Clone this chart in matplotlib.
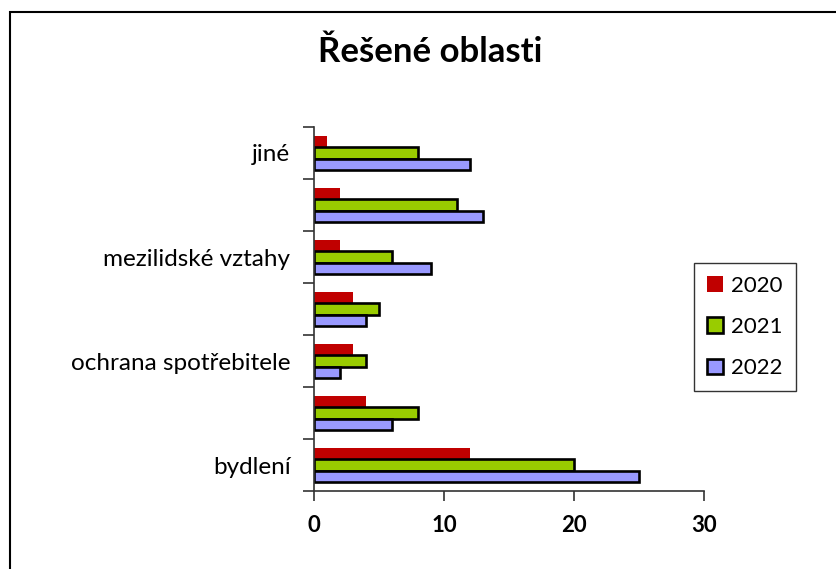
import matplotlib.pyplot as plt
import numpy as np
from matplotlib.patches import Rectangle

plt.rcParams['font.family'] = ['Lato', 'DejaVu Sans']

categories = ['bydlení', '', 'ochrana spotřebitele', '', 'mezilidské vztahy', '', 'jiné']
years = ['2020', '2021', '2022']
v2020 = [12, 4, 3, 3, 2, 2, 1]
v2021 = [20, 8, 4, 5, 6, 11, 8]
v2022 = [25, 6, 2, 4, 9, 13, 12]
colors = ['#C00000', '#99CC00', '#9999FF']

fig = plt.figure(figsize=(8.36, 5.69), dpi=100)
# outer chart border (only left/top visible in the reference)
fig.patches.append(Rectangle((10 / 836, -0.1), 1.2, 1 - 12 / 569 + 0.1,
                             transform=fig.transFigure, fill=False,
                             edgecolor='black', linewidth=1.5))

ax = fig.add_axes([314 / 836, 1 - 491 / 569, 390 / 836, 364 / 569])
y = np.arange(len(categories))
h = 0.22
ax.barh(y + h, v2020, height=h, color=colors[0], label=years[0], linewidth=0)
ax.barh(y, v2021, height=h, color=colors[1], label=years[1],
        edgecolor='black', linewidth=1.9)
ax.barh(y - h, v2022, height=h, color=colors[2], label=years[2],
        edgecolor='black', linewidth=1.9)

ax.set_xlim(0, 30)
ax.set_ylim(-0.5, len(categories) - 0.5)
ax.set_xticks([0, 10, 20, 30])
ax.set_xticklabels(['0', '10', '20', '30'], fontsize=16, fontweight='bold')
ax.set_yticks(np.arange(-0.5, len(categories), 1))
ax.set_yticklabels([])
ax.set_yticks(y, minor=True)
ax.set_yticklabels(categories, minor=True, fontsize=17.5)
ax.tick_params(axis='y', which='minor', length=0, pad=17)
ax.tick_params(axis='y', which='major', length=8, width=1.2, color='#333333')
ax.tick_params(axis='x', length=7, width=1.2, color='#333333', pad=10)

for s in ['top', 'right']:
    ax.spines[s].set_visible(False)
for s in ['left', 'bottom']:
    ax.spines[s].set_color('#333333')
    ax.spines[s].set_linewidth(1.2)

fig.text(430 / 836, 1 - 52 / 569, 'Řešené oblasti', fontsize=25,
         fontweight='bold', ha='center', va='center')

leg = fig.legend(loc='center', bbox_to_anchor=(745 / 836, 1 - 327 / 569),
                 fontsize=16, frameon=True, fancybox=False, edgecolor='black',
                 handlelength=0.7, handleheight=0.7, handletextpad=0.4,
                 labelspacing=0.95, borderpad=0.6)
leg.get_frame().set_linewidth(1.0)

fig.savefig('out.png', dpi=100)
